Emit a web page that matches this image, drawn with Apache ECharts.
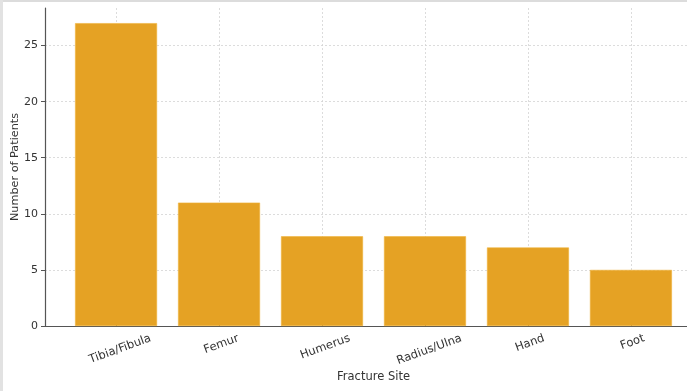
<!DOCTYPE html>
<html><head><meta charset="utf-8">
<script src="https://cdn.jsdelivr.net/npm/echarts@6/dist/echarts.min.js"></script>
<style>html,body{margin:0;padding:0;background:#fff}#c{width:687px;height:391px}</style>
</head><body><div id="c"></div>
<script>
const categories = ['Tibia/Fibula', 'Femur', 'Humerus', 'Radius/Ulna', 'Hand', 'Foot'];
const patients = [27, 11, 8, 8, 7, 5];
const yTicks = [0, 5, 10, 15, 20, 25];

const FONT = 'DejaVu Sans';
const FS = 11.5;
const ctx = document.createElement('canvas').getContext('2d');
ctx.font = FS + 'px "' + FONT + '"';
const rich = {};
categories.forEach((c, i) => {
  const L = ctx.measureText(c).width;
  rich['r' + i] = { padding: [0.364 * L, 0, 0, 0], fontFamily: FONT, fontSize: FS, color: '#333' };
});

const chart = echarts.init(document.getElementById('c'), null, { renderer: 'canvas' });
const n = categories.length;
const span = (n - 1) + 0.8;
const margin = span * 0.05;
chart.setOption({
  animation: false,
  backgroundColor: '#fff',
  textStyle: { fontFamily: FONT },
  graphic: [
    { type: 'rect', shape: { x: 0, y: 0, width: 687, height: 2 }, style: { fill: '#dcdcdc' }, silent: true },
    { type: 'rect', shape: { x: 0, y: 0, width: 3, height: 391 }, style: { fill: '#e2e2e2' }, silent: true }
  ],
  grid: { left: 45, right: -15, top: 8, bottom: 65, containLabel: false, outerBoundsMode: 'none' },
  xAxis: {
    type: 'value',
    min: -0.4 - margin,
    max: (n - 1) + 0.4 + margin,
    name: 'Fracture Site',
    nameLocation: 'middle',
    nameGap: 45,
    nameMoveOverlap: false,
    nameTextStyle: { fontFamily: FONT, fontSize: FS, color: '#333' },
    axisLine: { show: true, onZero: false, lineStyle: { color: '#555', width: 1.2 } },
    axisTick: { show: true, inside: true, length: 4, customValues: categories.map((c, i) => i), lineStyle: { color: '#555' } },
    axisLabel: {
      customValues: categories.map((c, i) => i),
      rotate: 20,
      align: 'center',
      verticalAlign: 'middle',
      margin: 12,
      fontFamily: FONT, fontSize: FS, color: '#333',
      formatter: v => { const i = Math.round(v); return '{r' + i + '|' + categories[i] + '}'; },
      rich: rich
    },
    splitLine: { show: true, lineStyle: { color: '#d4d4d4', type: [2, 2], width: 0.8 } }
  },
  yAxis: {
    type: 'value',
    min: 0,
    max: Math.max(...patients) * 1.05,
    interval: 5,
    name: 'Number of Patients',
    nameLocation: 'middle',
    nameGap: 24,
    nameMoveOverlap: false,
    nameTextStyle: { fontFamily: FONT, fontSize: 11.25, color: '#333' },
    axisLine: { show: true, onZero: false, lineStyle: { color: '#555', width: 1.2 } },
    axisTick: { show: true, length: 4, customValues: yTicks, lineStyle: { color: '#555' } },
    axisLabel: { customValues: yTicks, margin: 7, fontFamily: FONT, fontSize: 11, color: '#333' },
    splitLine: { show: true, lineStyle: { color: '#d4d4d4', type: [2, 2], width: 0.8 } }
  },
  series: [{
    type: 'bar',
    barWidth: 82,
    data: patients.map((v, i) => [i, v]),
    itemStyle: { color: '#E5A224', borderColor: '#F0B43A', borderWidth: 0.6 }
  }]
});
</script></body></html>
